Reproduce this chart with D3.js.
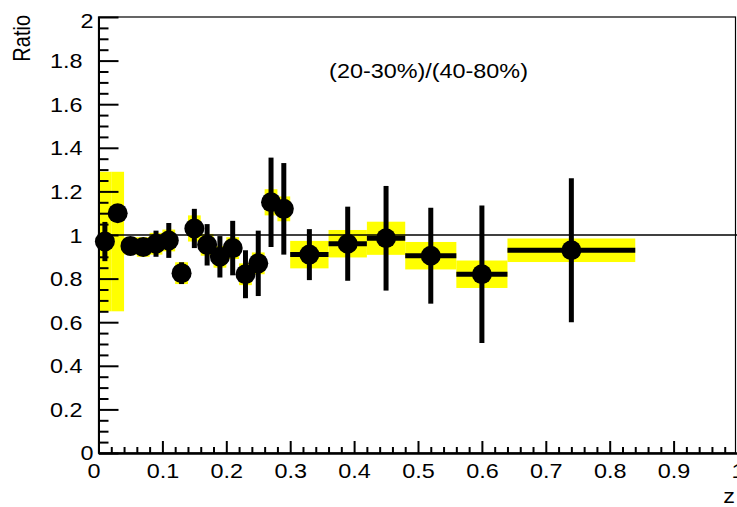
<!DOCTYPE html>
<html>
<head>
<meta charset="utf-8">
<script src="https://cdn.jsdelivr.net/npm/d3@7"></script>
<style>
	body { margin: 0; background: #fff; }
	svg { display: block; }
	text { font-family: "Liberation Sans", Arial, Helvetica, sans-serif; fill: #000; }
</style>
</head>
<body>
<div id="chart"></div>
<script>
// bin edges in z, one point per bin
const binEdges = [0, 0.02, 0.04, 0.06, 0.08, 0.10, 0.12, 0.14, 0.16, 0.18, 0.20,
	0.22, 0.24, 0.26, 0.28, 0.30, 0.36, 0.42, 0.48, 0.56, 0.64, 0.84];
const ratio = [0.97, 1.10, 0.95, 0.945, 0.96, 0.975, 0.825, 1.03, 0.955, 0.90, 0.94,
	0.82, 0.87, 1.15, 1.12, 0.91, 0.96, 0.985, 0.905, 0.82, 0.93];
const statErr = [0.09, 0.03, 0.03, 0.03, 0.06, 0.08, 0.05, 0.09, 0.095, 0.095, 0.125,
	0.11, 0.15, 0.205, 0.21, 0.117, 0.17, 0.24, 0.22, 0.315, 0.33];
const sysErrLow = [0.32, 0.45, 0.04, 0.045, 0.05, 0.05, 0.05, 0.06, 0.05, 0.05, 0.05,
	0.05, 0.05, 0.06, 0.057, 0.063, 0.063, 0.076, 0.063, 0.063, 0.054];
const sysErrHigh = [0.32, 0.19, 0.04, 0.045, 0.05, 0.05, 0.05, 0.06, 0.05, 0.05, 0.05,
	0.05, 0.05, 0.06, 0.057, 0.063, 0.063, 0.076, 0.063, 0.063, 0.054];
const xTicks = [0, 0.1, 0.2, 0.3, 0.4, 0.5, 0.6, 0.7, 0.8, 0.9, 1];
const yTicks = [0, 0.2, 0.4, 0.6, 0.8, 1, 1.2, 1.4, 1.6, 1.8, 2];
const titleText = "(20-30%)/(40-80%)";

const W = 737, H = 507;
const SX = 1.17; // glyphs in the picture are a bit wide
const x = d3.scaleLinear().domain([0, 1]).range([98.5, 737.5]);
const y = d3.scaleLinear().domain([0, 2]).range([453, 17]);

const points = ratio.map((r, i) => ({
	lo: binEdges[i], hi: binEdges[i + 1], z: (binEdges[i] + binEdges[i + 1]) / 2,
	r, stat: statErr[i], sLo: r - sysErrLow[i], sHi: r + sysErrHigh[i]
}));

const svg = d3.select("#chart").append("svg").attr("width", W).attr("height", H);

// systematic boxes
svg.append("g").selectAll("rect").data(points).join("rect")
	.attr("x", d => x(d.lo))
	.attr("width", d => x(d.hi) - x(d.lo))
	.attr("y", d => y(d.sHi))
	.attr("height", d => y(d.sLo) - y(d.sHi))
	.attr("fill", "#ffff00");

// frame (right edge sits just inside the picture, as in the original)
svg.append("rect")
	.attr("x", x(0)).attr("y", y(2))
	.attr("width", Math.min(x(1), W - 1.5) - x(0)).attr("height", y(0) - y(2))
	.attr("fill", "none").attr("stroke", "#000").attr("stroke-width", 1.2);

// line at 1
svg.append("line")
	.attr("x1", x(0)).attr("x2", x(1))
	.attr("y1", y(1)).attr("y2", y(1))
	.attr("stroke", "#000").attr("stroke-width", 1.5);

// error bars + markers
const pts = svg.append("g");
pts.selectAll(".ev").data(points).join("line").attr("class", "ev")
	.attr("x1", d => x(d.z)).attr("x2", d => x(d.z))
	.attr("y1", d => y(d.r + d.stat)).attr("y2", d => y(d.r - d.stat))
	.attr("stroke", "#000").attr("stroke-width", 5);
pts.selectAll(".eh").data(points).join("line").attr("class", "eh")
	.attr("x1", d => x(d.lo)).attr("x2", d => x(d.hi))
	.attr("y1", d => y(d.r)).attr("y2", d => y(d.r))
	.attr("stroke", "#000").attr("stroke-width", 5);
pts.selectAll("circle").data(points).join("circle")
	.attr("cx", d => x(d.z)).attr("cy", d => y(d.r)).attr("r", 10)
	.attr("fill", "#000");

// axes, ticks pointing into the frame
const minorY = d3.range(0, 2.001, 0.05).filter(v => Math.abs(v * 5 - Math.round(v * 5)) > 1e-6);
const minorX = d3.range(0, 1.001, 0.02).filter(v => Math.abs(v * 10 - Math.round(v * 10)) > 1e-6);

const yAxisG = svg.append("g").attr("transform", `translate(${x(0)},0)`)
	.call(d3.axisLeft(y).tickValues(yTicks).tickSizeInner(-20).tickSizeOuter(0).tickPadding(16)
		.tickFormat(d3.format("~g")));
svg.append("g").attr("transform", `translate(${x(0)},0)`)
	.call(d3.axisLeft(y).tickValues(minorY).tickSizeInner(-10).tickSizeOuter(0).tickFormat(""));

const xAxisG = svg.append("g").attr("transform", `translate(0,${y(0)})`)
	.call(d3.axisBottom(x).tickValues(xTicks).tickSizeInner(-12).tickSizeOuter(0).tickPadding(0)
		.tickFormat(d3.format("~g")));
svg.append("g").attr("transform", `translate(0,${y(0)})`)
	.call(d3.axisBottom(x).tickValues(minorX).tickSizeInner(-6).tickSizeOuter(0).tickFormat(""));

svg.selectAll(".domain").attr("stroke", "#000").attr("stroke-width", 2);
svg.selectAll(".tick line").attr("stroke", "#000").attr("stroke-width", 2);

yAxisG.selectAll(".tick text")
	.attr("font-size", 20).attr("dy", null).attr("x", null)
	.attr("transform", d => {
		let dx = -16, dy = 7;
		if (d === 0) { dx = -5; dy = 6; }
		if (d === 2) { dx = -5; dy = 10; }
		return `translate(${dx},${dy}) scale(${SX},1)`;
	});

xAxisG.selectAll(".tick text")
	.attr("font-size", 20).attr("dy", null).attr("y", null)
	.attr("transform", d => `translate(${d === 0 ? -5 : 0},25) scale(${SX},1)`);

// labels
svg.append("text")
	.attr("font-size", 20).attr("text-anchor", "end")
	.attr("transform", `translate(30,15) scale(${SX},1) rotate(-90)`)
	.text("Ratio");

svg.append("text")
	.attr("font-size", 20).attr("text-anchor", "end")
	.attr("transform", `translate(735,503) scale(${SX},1)`)
	.text("z");

svg.append("text")
	.attr("font-size", 20).attr("text-anchor", "middle")
	.attr("transform", `translate(428.5,78) scale(${SX},1)`)
	.text(titleText);
</script>
</body>
</html>
